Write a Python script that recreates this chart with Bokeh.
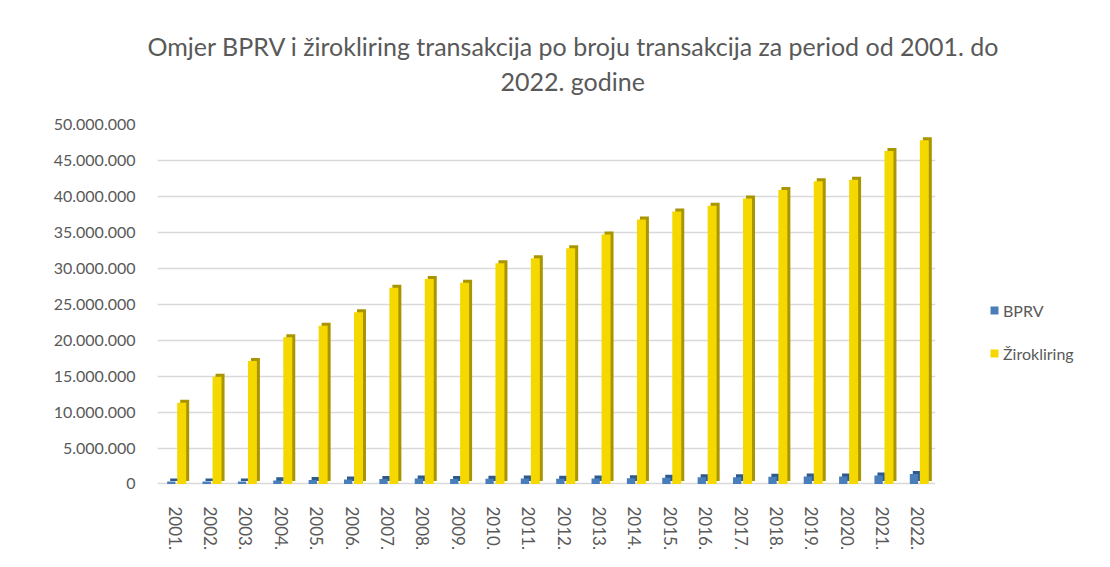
from bokeh.plotting import figure
from bokeh.models import ColumnDataSource, FactorRange, Range1d, FixedTicker, Legend, LegendItem, Title
from bokeh.transform import dodge
from bokeh.embed import file_html
from bokeh.resources import INLINE

# ---- data ----
years = ["2001.", "2002.", "2003.", "2004.", "2005.", "2006.", "2007.", "2008.",
         "2009.", "2010.", "2011.", "2012.", "2013.", "2014.", "2015.", "2016.",
         "2017.", "2018.", "2019.", "2020.", "2021.", "2022."]
bprv = [350000, 330000, 350000, 500000, 550000, 620000, 680000, 750000,
        700000, 720000, 750000, 720000, 750000, 800000, 850000, 920000,
        950000, 1020000, 1050000, 1050000, 1180000, 1380000]
zirokliring = [11300000, 14900000, 17100000, 20400000, 22000000, 23900000, 27300000, 28500000,
               28000000, 30700000, 31400000, 32800000, 34700000, 36800000, 37900000, 38700000,
               39700000, 40900000, 42100000, 42300000, 46300000, 47800000]
series_names = ["BPRV", "Žirokliring"]
y_ticks = [0, 5000000, 10000000, 15000000, 20000000, 25000000,
           30000000, 35000000, 40000000, 45000000, 50000000]
title_lines = ["Omjer BPRV i žirokliring transakcija po broju transakcija za period od 2001. do",
               "2022. godine"]

# ---- style ----
FONT = "Lato"
TXT = "#595959"
BLUE, BLUE_DARK = "#4A7EBB", "#2C5A8E"
YEL, YEL_DARK = "#F5D800", "#A99500"
DEPTH_Y = 420000      # apparent 3D depth (vertical), data units
DEPTH_X = 0.085       # apparent 3D depth (horizontal), category units

source = ColumnDataSource(dict(year=years, bprv=bprv, ziro=zirokliring))

p = figure(frame_width=778, frame_height=362, output_backend="svg", toolbar_location=None,
           x_range=FactorRange(*years), y_range=Range1d(-350000, 50000000),
           min_border_left=157, min_border_right=167, min_border_top=124, min_border_bottom=73)
p.outline_line_color = None
p.background_fill_color = "white"
p.border_fill_color = "white"

# BPRV bars (shadow = side/top faces, then front face)
p.vbar(x=dodge("year", -0.109 + DEPTH_X, range=p.x_range), width=0.235,
       top=dodge("bprv", DEPTH_Y), bottom=DEPTH_Y, source=source,
       fill_color=BLUE_DARK, line_color=None)
r_b = p.vbar(x=dodge("year", -0.109, range=p.x_range), width=0.235,
             top="bprv", bottom=0, source=source,
             fill_color=BLUE, line_color=None)
# Žirokliring bars
p.vbar(x=dodge("year", 0.184 + DEPTH_X, range=p.x_range), width=0.254,
       top=dodge("ziro", DEPTH_Y), bottom=DEPTH_Y, source=source,
       fill_color=YEL_DARK, line_color=None)
r_z = p.vbar(x=dodge("year", 0.184, range=p.x_range), width=0.254,
             top="ziro", bottom=0, source=source,
             fill_color=YEL, line_color=None)

# axes
p.yaxis.ticker = FixedTicker(ticks=y_ticks)
p.yaxis.major_label_overrides = {t: f"{t:,}".replace(",", ".") for t in y_ticks}
p.yaxis.axis_line_color = None
p.yaxis.major_tick_line_color = None
p.yaxis.minor_tick_line_color = None
p.yaxis.major_tick_out = 0
p.yaxis.major_label_standoff = 22
p.yaxis.major_label_text_font = FONT
p.yaxis.major_label_text_font_size = "16px"
p.yaxis.major_label_text_color = TXT

p.xaxis.major_label_orientation = "vertical"
p.xaxis.axis_line_color = None
p.xaxis.major_tick_line_color = None
p.xaxis.minor_tick_line_color = None
p.xaxis.major_tick_out = 0
p.xaxis.major_label_standoff = 20
p.xaxis.major_label_text_font = FONT
p.xaxis.major_label_text_font_size = "17px"
p.xaxis.major_label_text_color = TXT

p.xgrid.grid_line_color = None
p.ygrid.grid_line_color = "#d9d9d9"
p.ygrid.grid_line_width = 1.5

# title: spacer (nearest the frame), then line 2, then line 1 on top
p.add_layout(Title(text=" ", text_font=FONT, text_font_size="12px",
                   text_color=TXT, standoff=9), "above")
p.add_layout(Title(text=title_lines[1], align="left", offset=343, text_font=FONT,
                   text_font_size="25px", text_color=TXT, text_font_style="normal",
                   standoff=6), "above")
p.add_layout(Title(text=title_lines[0], align="left", offset=-10, text_font=FONT,
                   text_font_size="25px", text_color=TXT, text_font_style="normal",
                   standoff=0), "above")

# legend
legend = Legend(items=[LegendItem(label=series_names[0], renderers=[r_b]),
                       LegendItem(label=series_names[1], renderers=[r_z])],
                location=(54, 123), orientation="vertical")
legend.glyph_width = 10
legend.glyph_height = 10
legend.label_height = 20
legend.label_standoff = 4
legend.spacing = 23
legend.padding = 0
legend.margin = 0
legend.border_line_color = None
legend.background_fill_alpha = 0
legend.label_text_font = FONT
legend.label_text_font_size = "16px"
legend.label_text_color = TXT
p.add_layout(legend, "right")

open("out.html", "w").write(file_html(p, INLINE))
